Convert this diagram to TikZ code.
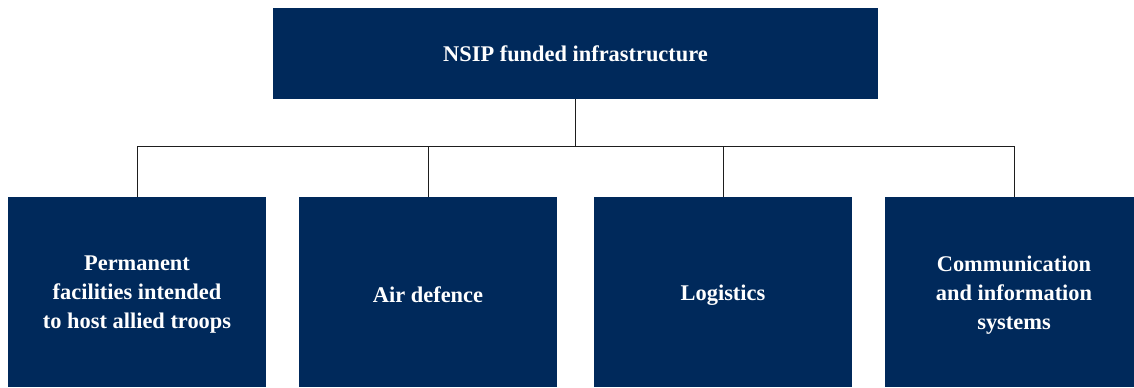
\documentclass[tikz,border=0pt]{standalone}
\usepackage{fontspec}
\setmainfont{Liberation Serif}
\definecolor{navy}{RGB}{0,41,91}
\definecolor{linegray}{RGB}{30,30,30}
\begin{document}
\begin{tikzpicture}[x=0.75pt,y=-0.75pt,
  box/.style={fill=navy,draw=none,text=white,font=\bfseries\fontsize{16.8}{21.75}\selectfont,align=center,inner sep=0pt},
  conn/.style={draw=linegray,line width=0.6pt}]
\useasboundingbox (0,0) rectangle (1134,387);
\clip (0,0) rectangle (1134,387);
\node[box,minimum width=605*0.75pt,minimum height=91*0.75pt] (top) at (575.5,53.5) {NSIP funded infrastructure};
\node[box,minimum width=258*0.75pt,minimum height=190*0.75pt] (b1) at (137,292) {};
\node[box,minimum width=258*0.75pt,minimum height=190*0.75pt] (b2) at (428,292) {};
\node[box,minimum width=258*0.75pt,minimum height=190*0.75pt] (b3) at (723,292) {};
\node[box,minimum width=258*0.75pt,minimum height=190*0.75pt] (b4) at (1014,292) {};
\node[box,fill=none] (t1) at (137,295) {Permanent\\facilities intended\\to host allied troops};
\node[box,fill=none] (t2) at (428,295) {Air defence};
\node[box,fill=none] (t3) at (723,295) {Logistics};
\node[box,fill=none] (t4) at (1014,295) {Communication\\and information\\systems};
\coordinate (bus) at (575.5,146);
\draw[conn] (top.south) -- (bus);
\draw[conn] (b1.north) -- (b1.north |- bus) -- (b4.north |- bus) -- (b4.north);
\draw[conn] (b2.north) -- (b2.north |- bus);
\draw[conn] (b3.north) -- (b3.north |- bus);
\end{tikzpicture}
\end{document}
